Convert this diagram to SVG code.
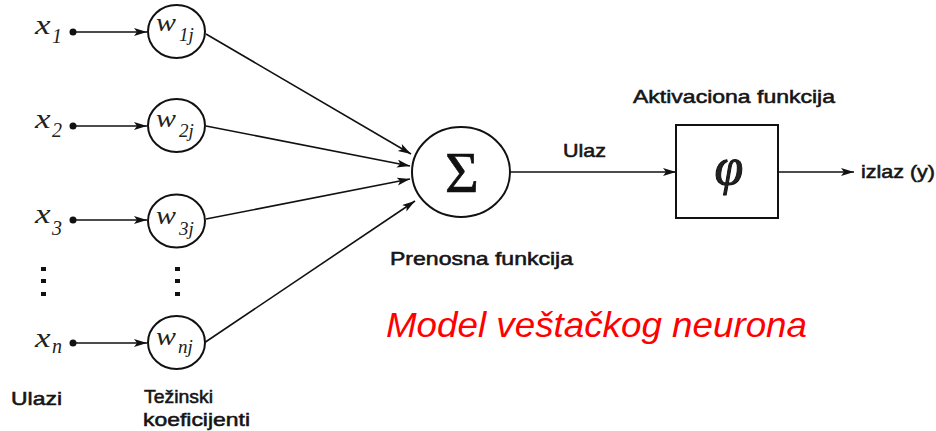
<svg xmlns="http://www.w3.org/2000/svg" width="936" height="431" viewBox="0 0 936 431">
  <style>
    .ln { stroke: #111; stroke-width: 1.6; fill: none; }
    .node { stroke: #111; stroke-width: 2; fill: #fff; }
    .math { font-family: "Liberation Serif", "Times New Roman", serif; font-style: italic; fill: #222; }
    .lbl { font-family: "Liberation Sans", Arial, sans-serif; font-size: 18.5px; fill: #151515; stroke: #151515; stroke-width: 0.55; }
    .dot { fill: #111; }
  </style>
  <defs>
    <marker id="arr" markerUnits="userSpaceOnUse" markerWidth="14" markerHeight="10" refX="13" refY="4" orient="auto">
      <path d="M0,0 L13,4 L0,8 L3,4 z" fill="#111"/>
    </marker>
  </defs>

  <!-- connectors -->
  <g id="connectors">
    <line class="ln" x1="73" y1="32" x2="147" y2="32" marker-end="url(#arr)"/>
    <line class="ln" x1="73" y1="126" x2="147" y2="126" marker-end="url(#arr)"/>
    <line class="ln" x1="73" y1="220" x2="147" y2="220" marker-end="url(#arr)"/>
    <line class="ln" x1="73" y1="343" x2="147" y2="343" marker-end="url(#arr)"/>
    <line class="ln" x1="206" y1="34" x2="411" y2="154" marker-end="url(#arr)"/>
    <line class="ln" x1="206" y1="126" x2="410" y2="166" marker-end="url(#arr)"/>
    <line class="ln" x1="206" y1="219" x2="410" y2="179" marker-end="url(#arr)"/>
    <line class="ln" x1="204" y1="343" x2="415" y2="201" marker-end="url(#arr)"/>
    <line class="ln" x1="510" y1="172" x2="676" y2="172" marker-end="url(#arr)"/>
    <line class="ln" x1="778" y1="172" x2="854" y2="172" marker-end="url(#arr)"/>
  </g>

  <!-- inputs -->
  <g id="input-1">
    <text class="math" font-size="27" transform="translate(35,34) scale(1.3,1)">x</text>
    <text class="math" font-size="20" x="52" y="43">1</text>
    <circle class="dot" cx="73" cy="32" r="3.5"/>
  </g>
  <g id="input-2">
    <text class="math" font-size="27" transform="translate(35,128) scale(1.3,1)">x</text>
    <text class="math" font-size="20" x="52" y="137">2</text>
    <circle class="dot" cx="73" cy="126" r="3.5"/>
  </g>
  <g id="input-3">
    <text class="math" font-size="27" transform="translate(35,223) scale(1.3,1)">x</text>
    <text class="math" font-size="20" x="52" y="235">3</text>
    <circle class="dot" cx="73" cy="220" r="3.5"/>
  </g>
  <g id="input-n">
    <text class="math" font-size="27" transform="translate(35,347) scale(1.3,1)">x</text>
    <text class="math" font-size="20" x="52" y="353">n</text>
    <circle class="dot" cx="73" cy="343" r="3.5"/>
  </g>
  <g id="input-dots">
    <rect class="dot" x="41" y="267" width="5" height="4"/>
    <rect class="dot" x="41" y="279" width="5" height="4"/>
    <rect class="dot" x="41" y="292" width="5" height="4"/>
  </g>

  <!-- weights -->
  <g id="weight-1">
    <ellipse class="node" cx="176.5" cy="31.5" rx="28.5" ry="26.5"/>
    <text class="math" font-size="26" transform="translate(156,31) scale(1.15,1)">w</text>
    <text class="math" font-size="19" x="179" y="41">1j</text>
  </g>
  <g id="weight-2">
    <ellipse class="node" cx="176.5" cy="125.5" rx="28.5" ry="26.5"/>
    <text class="math" font-size="26" transform="translate(156,127) scale(1.15,1)">w</text>
    <text class="math" font-size="19" x="179" y="137">2j</text>
  </g>
  <g id="weight-3">
    <ellipse class="node" cx="176.5" cy="221" rx="28.5" ry="26.5"/>
    <text class="math" font-size="26" transform="translate(156,224) scale(1.15,1)">w</text>
    <text class="math" font-size="19" x="179" y="235">3j</text>
  </g>
  <g id="weight-n">
    <ellipse class="node" cx="176.5" cy="342.5" rx="28.5" ry="26.5"/>
    <text class="math" font-size="26" transform="translate(156,345) scale(1.15,1)">w</text>
    <text class="math" font-size="19" x="178" y="353">nj</text>
  </g>
  <g id="weight-dots">
    <rect class="dot" x="175" y="267" width="5" height="4"/>
    <rect class="dot" x="175" y="279" width="5" height="4"/>
    <rect class="dot" x="175" y="292" width="5" height="4"/>
  </g>

  <!-- summation -->
  <g id="sum">
    <ellipse class="node" cx="461" cy="172" rx="49" ry="45"/>
    <text x="462" y="192" font-family="'Liberation Serif', 'Times New Roman', serif" font-size="58" fill="#111" stroke="#111" stroke-width="0.7" text-anchor="middle">Σ</text>
    <text class="lbl" x="390" y="265" textLength="183" lengthAdjust="spacingAndGlyphs">Prenosna funkcija</text>
  </g>

  <!-- activation -->
  <g id="activation">
    <rect class="node" x="676" y="125" width="102" height="93"/>
    <text class="math" x="729" y="184" font-size="52" text-anchor="middle" fill="#111" stroke="#111" stroke-width="1">φ</text>
    <text class="lbl" x="633" y="103" textLength="202" lengthAdjust="spacingAndGlyphs">Aktivaciona funkcija</text>
  </g>

  <g id="edge-labels">
    <text class="lbl" x="563" y="157" textLength="43" lengthAdjust="spacingAndGlyphs">Ulaz</text>
    <text class="lbl" x="861" y="178" textLength="74" lengthAdjust="spacingAndGlyphs">izlaz (y)</text>
  </g>

  <g id="captions">
    <text class="lbl" x="11" y="405" textLength="51" lengthAdjust="spacingAndGlyphs">Ulazi</text>
    <text class="lbl" x="144" y="403" textLength="69" lengthAdjust="spacingAndGlyphs">Težinski</text>
    <text class="lbl" x="143" y="426" textLength="107" lengthAdjust="spacingAndGlyphs">koeficijenti</text>
    <text x="386" y="337" font-family="'Liberation Sans', Arial, sans-serif" font-style="italic" font-size="35" fill="#ff0000" textLength="421" lengthAdjust="spacingAndGlyphs">Model veštačkog neurona</text>
  </g>
</svg>
